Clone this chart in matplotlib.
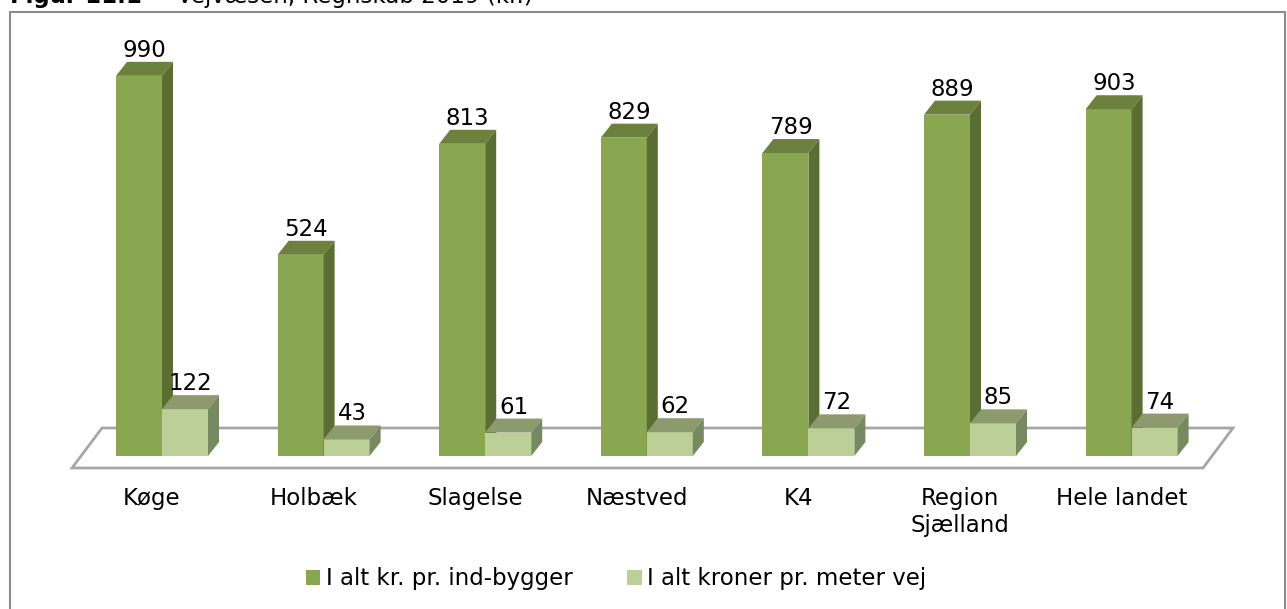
import numpy as np
import matplotlib.pyplot as plt
from matplotlib.patches import Polygon, Rectangle, Patch

categories = ["Køge", "Holbæk", "Slagelse", "Næstved", "K4", "Region\nSjælland", "Hele landet"]
per_inhabitant = [990, 524, 813, 829, 789, 889, 903]
per_meter_road = [122, 43, 61, 62, 72, 85, 74]
series_names = ["I alt kr. pr. ind-bygger", "I alt kroner pr. meter vej"]

# colours: front, top, side
dark = ("#89a650", "#6b813d", "#5b6e32")
light = ("#bbcf96", "#8d9a6e", "#768a5f")

W, H = 1287, 609
fig = plt.figure(figsize=(W / 100, H / 100), dpi=100)
ax = fig.add_axes([0, 0, 1, 1])
ax.axis("off")

# scale: pixels per category step / per value unit
step_px = 161.6
unit_px = 0.384
x0_px = 162          # centre of first category
base_px = H - 456    # value 0 (from bottom)
ax.set_xlim(-x0_px / step_px, (W - x0_px) / step_px)
ax.set_ylim(-base_px / unit_px, (H - base_px) / unit_px)

px_x = 1 / step_px
px_y = 1 / unit_px
ddx, ddy = 11 * px_x, 14 * px_y  # depth offset
bw = 46 * px_x
fs = 16.5

x = np.arange(len(categories))

# floor
floor = Polygon([(-0.557, -12 * px_y), (len(x) - 0.558, -12 * px_y),
                 (len(x) - 0.373, 28 * px_y), (-0.371, 28 * px_y)],
                closed=True, facecolor="white", edgecolor="#a6a6a6", lw=2, zorder=1)
ax.add_patch(floor)


def bar3d(left, v, cols, z):
    ax.bar(left, v, width=bw, align="edge", color=cols[0], zorder=z, lw=0)
    r = left + bw
    ax.add_patch(Polygon([(left, v), (r, v), (r + ddx, v + ddy), (left + ddx, v + ddy)],
                         facecolor=cols[1], lw=0, zorder=z))
    ax.add_patch(Polygon([(r, 0), (r + ddx, ddy), (r + ddx, v + ddy), (r, v)],
                         facecolor=cols[2], lw=0, zorder=z))
    ax.text(left + bw / 2 + ddx / 2, v + ddy + 5 * px_y, f"{v}", ha="center",
            va="baseline", fontsize=fs, color="black", zorder=20)


for i in x:
    bar3d(i - bw, per_inhabitant[i], dark, 2 + 2 * i)
    bar3d(i, per_meter_road[i], light, 3 + 2 * i)
    ax.text(i - 10 * px_x, -31 * px_y, categories[i], ha="center", va="top",
            fontsize=fs, linespacing=1.2, zorder=20)

# outer frame
fig.patches.append(Rectangle((10 / W, -0.02), (1285 - 10) / W, (H - 12) / H + 0.02,
                             transform=fig.transFigure, fill=False,
                             edgecolor="#8c8c8c", lw=1.5))

# title, clipped at the top edge
fig.text(10 / W, (H - 3) / H, "Figur 11.1", fontsize=fs, fontweight="bold", va="baseline")
fig.text(177 / W, (H - 3) / H, "Vejvæsen, Regnskab 2019 (kr.)", fontsize=fs, va="baseline")

handles = [Patch(facecolor=dark[0]), Patch(facecolor=light[0])]
fig.legend(handles, series_names, loc="center", bbox_to_anchor=(616 / W, 30 / H),
           ncol=2, frameon=False, fontsize=fs, handlelength=0.62, handleheight=0.62,
           handletextpad=0.25, columnspacing=2.4)

fig.savefig("out.png", dpi=100)
